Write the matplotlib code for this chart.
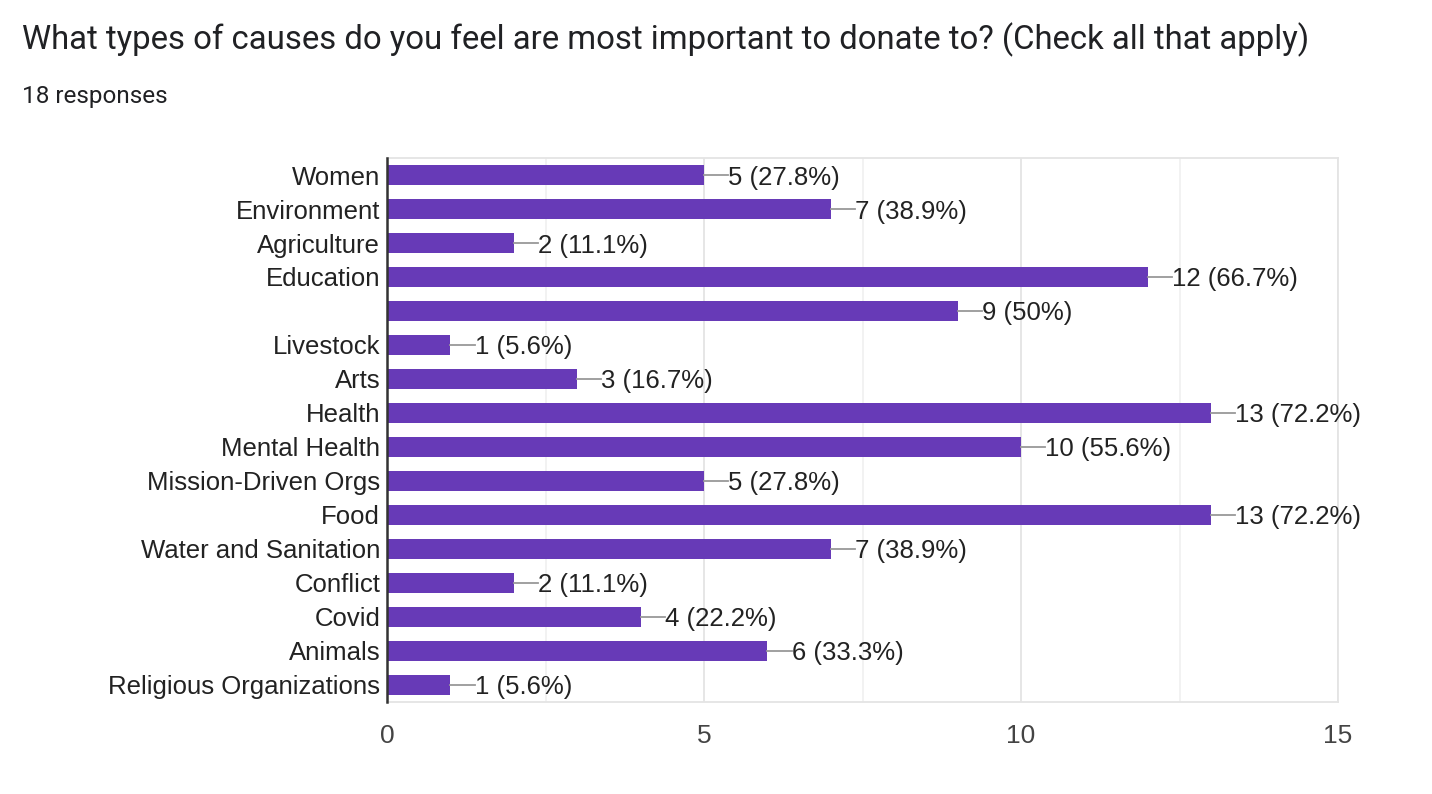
import matplotlib.pyplot as plt
import numpy as np

plt.rcParams['font.family'] = ['Liberation Sans', 'DejaVu Sans']

categories = ["Women", "Environment", "Agriculture", "Education", "",
              "Livestock", "Arts", "Health", "Mental Health",
              "Mission-Driven Orgs", "Food", "Water and Sanitation",
              "Conflict", "Covid", "Animals", "Religious Organizations"]
counts = [5, 7, 2, 12, 9, 1, 3, 13, 10, 5, 13, 7, 2, 4, 6, 1]
percents = ["27.8%", "38.9%", "11.1%", "66.7%", "50%", "5.6%", "16.7%",
            "72.2%", "55.6%", "27.8%", "72.2%", "38.9%", "11.1%", "22.2%",
            "33.3%", "5.6%"]
total_responses = 18
xticks = [0, 5, 10, 15]

fig = plt.figure(figsize=(14.32, 7.94), dpi=100)
ax = fig.add_axes([0.2703, 0.1159, 0.6641, 0.6851])

y = np.arange(len(categories))
ax.barh(y, counts, height=0.6, color='#673ab7', zorder=3)

# leader lines + value labels
lead = 0.38
for yi, c, p in zip(y, counts, percents):
    ax.plot([c, c + lead], [yi, yi], color='#999999', lw=1.3, zorder=3)
    ax.text(c + lead, yi, f"{c} ({p})", va='center_baseline', ha='left',
            fontsize=18.5, color='#222222', zorder=4)

ax.set_xlim(0, 15)
ax.set_ylim(len(categories) - 0.5, -0.5)
ax.set_yticks(y)
ax.set_yticklabels(categories, fontsize=18.5, color='#222222',
                   va='center_baseline')
ax.set_xticks(xticks)
ax.set_xticklabels([str(t) for t in xticks], fontsize=19, color='#444444')
ax.set_xticks([2.5, 7.5, 12.5], minor=True)
ax.tick_params(axis='both', which='both', length=0)
ax.tick_params(axis='y', pad=5)
ax.tick_params(axis='x', pad=16)

ax.grid(axis='x', which='major', color='#e4e4e4', lw=1.3, zorder=0)
ax.grid(axis='x', which='minor', color='#f1f1f1', lw=1.3, zorder=0)

for side in ['top', 'right', 'bottom']:
    ax.spines[side].set_color('#e4e4e4')
    ax.spines[side].set_linewidth(1.3)
ax.spines['left'].set_color('#333333')
ax.spines['left'].set_linewidth(1.8)
ax.spines['left'].set_zorder(5)

fig.text(22 / 1432, 1 - 40 / 794,
         "What types of causes do you feel are most important to donate to? (Check all that apply)",
         fontsize=23.7, color='#202124', va='center', ha='left',
         family=['Roboto', 'DejaVu Sans'])
fig.text(22 / 1432, 1 - 96 / 794, f"{total_responses} responses",
         fontsize=17.5, color='#202124', va='center', ha='left',
         family=['Roboto', 'DejaVu Sans'])

fig.savefig("out.png", dpi=100, facecolor='white')
